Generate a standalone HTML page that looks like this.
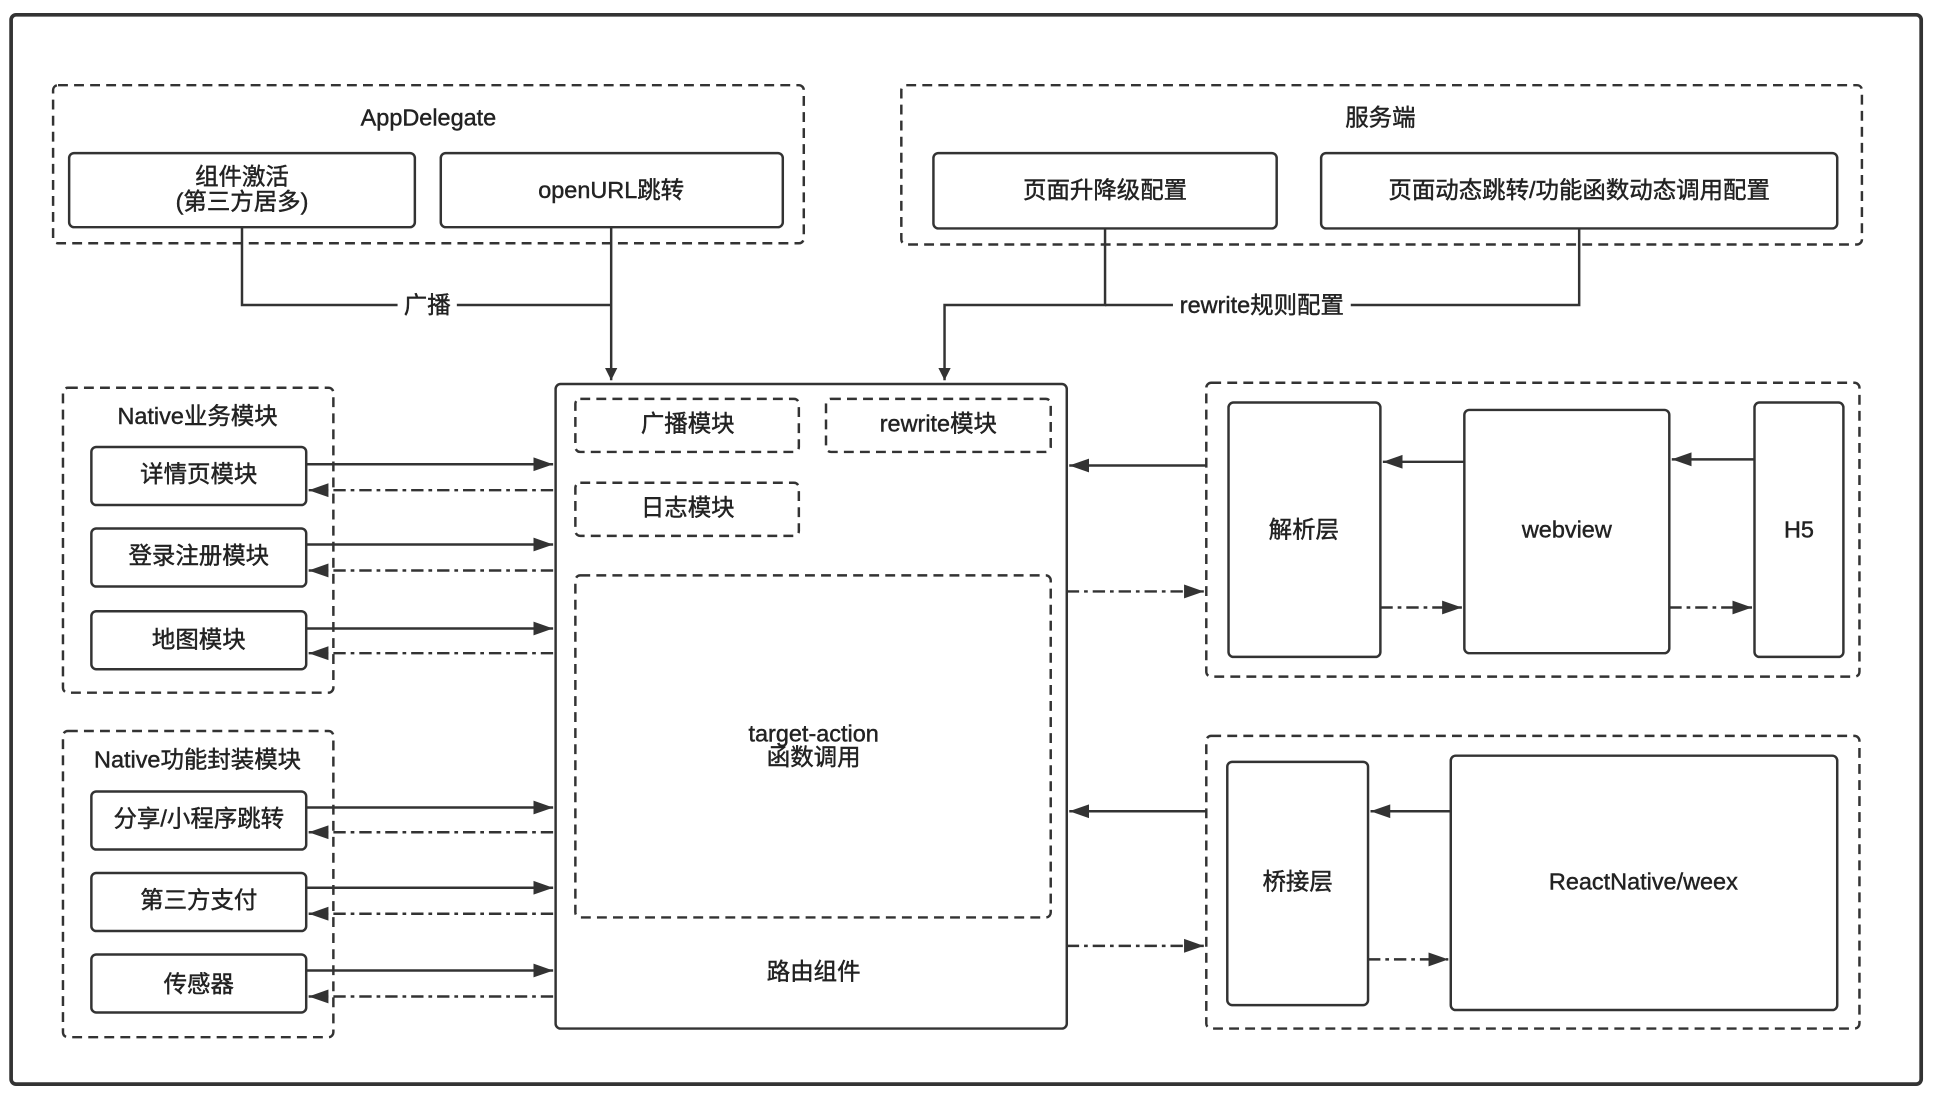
<!DOCTYPE html>
<html><head><meta charset="utf-8"><style>
html,body{margin:0;padding:0;background:#fff;width:1936px;height:1094px;overflow:hidden}
svg{display:block}
text{font-family:"Liberation Sans","Noto Sans CJK SC",sans-serif;font-size:19px;fill:#222;stroke:#222;stroke-width:0.35px;text-anchor:middle;dominant-baseline:central}
</style></head><body>
<svg width="1936" height="1094" viewBox="0 0 1568 886" preserveAspectRatio="none">
<defs>
<marker id="a" viewBox="0 0 10 10" refX="10" refY="5" markerWidth="10" markerHeight="12" markerUnits="userSpaceOnUse" orient="auto"><path d="M0,0L10,5L0,10z" fill="#333"/></marker>
<marker id="b" viewBox="0 0 10 10" refX="10" refY="5" markerWidth="16" markerHeight="16" markerUnits="userSpaceOnUse" orient="auto"><path d="M0,1.5L10,5L0,8.5z" fill="#333"/></marker>
</defs>
<rect x="0" y="0" width="1568" height="886" fill="#fff"/>
<rect x="9" y="12" width="1547" height="866" rx="4" fill="none" stroke="#333" stroke-width="3"/>
<g fill="none" stroke="#333" stroke-width="2">
<g stroke-dasharray="8,5">
<rect x="43" y="69" width="608" height="128" rx="4"/>
<rect x="730" y="69" width="778" height="129" rx="4"/>
<rect x="51" y="314" width="219" height="247" rx="4"/>
<rect x="51" y="592" width="219" height="248" rx="4"/>
<rect x="466" y="323" width="181" height="43" rx="4"/>
<rect x="669" y="323" width="182" height="43" rx="4"/>
<rect x="466" y="391" width="181" height="43" rx="4"/>
<rect x="466" y="466" width="385" height="277" rx="4"/>
<rect x="977" y="310" width="529" height="238" rx="4"/>
<rect x="977" y="596" width="529" height="237" rx="4"/>
</g>
<rect x="56" y="124" width="280" height="60" rx="4"/>
<rect x="357" y="124" width="277" height="60" rx="4"/>
<rect x="756" y="124" width="278" height="61" rx="4"/>
<rect x="1070" y="124" width="418" height="61" rx="4"/>
<rect x="450" y="311" width="414" height="522" rx="4"/>
<rect x="74" y="362" width="174" height="47" rx="4"/>
<rect x="74" y="428" width="174" height="47" rx="4"/>
<rect x="74" y="495" width="174" height="47" rx="4"/>
<rect x="74" y="641" width="174" height="47" rx="4"/>
<rect x="74" y="707" width="174" height="47" rx="4"/>
<rect x="74" y="773" width="174" height="47" rx="4"/>
<rect x="995" y="326" width="123" height="206" rx="4"/>
<rect x="1186" y="332" width="166" height="197" rx="4"/>
<rect x="1421" y="326" width="72" height="206" rx="4"/>
<rect x="994" y="617" width="114" height="197" rx="4"/>
<rect x="1175" y="612" width="313" height="206" rx="4"/>
<path d="M196,184V247H495"/>
<path d="M495,184V308" marker-end="url(#a)"/>
<path d="M1279,185V247H895"/>
<path d="M895,185V247H765V308" marker-end="url(#a)"/>
<g>
<path d="M248,376H448" marker-end="url(#b)"/>
<path d="M248,441H448" marker-end="url(#b)"/>
<path d="M248,509H448" marker-end="url(#b)"/>
<path d="M248,654H448" marker-end="url(#b)"/>
<path d="M248,719H448" marker-end="url(#b)"/>
<path d="M248,786H448" marker-end="url(#b)"/>
<path d="M977,377H866" marker-end="url(#b)"/>
<path d="M1186,374H1120" marker-end="url(#b)"/>
<path d="M1421,372H1354" marker-end="url(#b)"/>
<path d="M977,657H866" marker-end="url(#b)"/>
<path d="M1175,657H1110" marker-end="url(#b)"/>
</g>
<g stroke-dasharray="10,4,3,4">
<path d="M448,397H250" marker-end="url(#b)"/>
<path d="M448,462H250" marker-end="url(#b)"/>
<path d="M448,529H250" marker-end="url(#b)"/>
<path d="M448,674H250" marker-end="url(#b)"/>
<path d="M448,740H250" marker-end="url(#b)"/>
<path d="M448,807H250" marker-end="url(#b)"/>
<path d="M864,479H975" marker-end="url(#b)"/>
<path d="M1118,492H1184" marker-end="url(#b)"/>
<path d="M1352,492H1419" marker-end="url(#b)"/>
<path d="M864,766H975" marker-end="url(#b)"/>
<path d="M1108,777H1173" marker-end="url(#b)"/>
</g>
</g>
<rect x="322" y="236" width="48" height="22" fill="#fff"/>
<rect x="950" y="236" width="144" height="22" fill="#fff"/>
<text x="347" y="95">AppDelegate</text>
<text x="1118" y="95">服务端</text>
<text x="196" y="143">组件激活</text>
<text x="196" y="163">(第三方居多)</text>
<text x="495" y="154">openURL跳转</text>
<text x="895" y="154">页面升降级配置</text>
<text x="1279" y="154">页面动态跳转/功能函数动态调用配置</text>
<text x="346" y="247">广播</text>
<text x="1022" y="247">rewrite规则配置</text>
<text x="160" y="337">Native业务模块</text>
<text x="161" y="384">详情页模块</text>
<text x="161" y="450">登录注册模块</text>
<text x="161" y="518">地图模块</text>
<text x="160" y="615">Native功能封装模块</text>
<text x="161" y="663">分享/小程序跳转</text>
<text x="161" y="729">第三方支付</text>
<text x="161" y="797">传感器</text>
<text x="557" y="343">广播模块</text>
<text x="760" y="343">rewrite模块</text>
<text x="557" y="411">日志模块</text>
<text x="659" y="594">target-action</text>
<text x="659" y="613">函数调用</text>
<text x="659" y="787">路由组件</text>
<text x="1056" y="429">解析层</text>
<text x="1269" y="429">webview</text>
<text x="1457" y="429">H5</text>
<text x="1051" y="714">桥接层</text>
<text x="1331" y="714">ReactNative/weex</text>
</svg>
</body></html>
